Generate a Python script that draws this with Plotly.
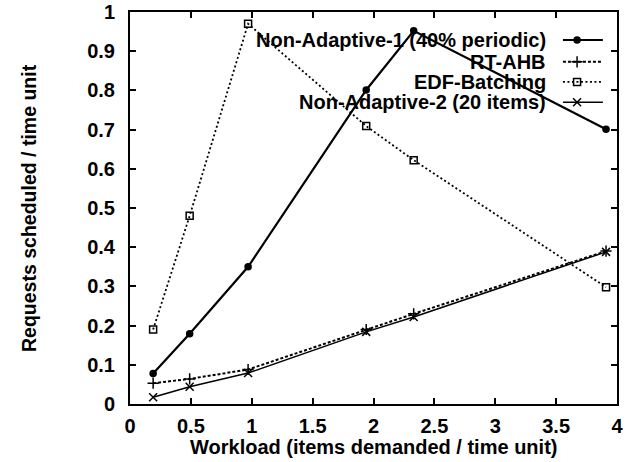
import plotly.graph_objects as go

# ---- data ----
x_vals = [0.19, 0.49, 0.97, 1.94, 2.33, 3.91]
na1 = [0.078, 0.179, 0.350, 0.801, 0.952, 0.701]   # Non-Adaptive-1 (40% periodic)
rtahb = [0.053, 0.064, 0.088, 0.190, 0.230, 0.390]  # RT-AHB
edf = [0.190, 0.480, 0.970, 0.709, 0.622, 0.298]    # EDF-Batching
na2 = [0.017, 0.044, 0.079, 0.184, 0.222, 0.388]    # Non-Adaptive-2 (20 items)

names = ["Non-Adaptive-1 (40% periodic)", "RT-AHB", "EDF-Batching", "Non-Adaptive-2 (20 items)"]
series = [na1, rtahb, edf, na2]

x_ticks = [0, 0.5, 1, 1.5, 2, 2.5, 3, 3.5, 4]
x_ticklabels = ["0", "0.5", "1", "1.5", "2", "2.5", "3", "3.5", "4"]
y_ticks = [0, 0.1, 0.2, 0.3, 0.4, 0.5, 0.6, 0.7, 0.8, 0.9, 1]
y_ticklabels = ["0", "0.1", "0.2", "0.3", "0.4", "0.5", "0.6", "0.7", "0.8", "0.9", "1"]

FONT = "Liberation Sans"
FS = 20
styles = [
    dict(line=dict(color="black", width=2.2, dash="solid"),
         marker=dict(symbol="circle", size=7.5, color="black")),
    dict(line=dict(color="black", width=2, dash="3px,2px"),
         marker=dict(symbol="cross-thin", size=8, color="black", line=dict(color="black", width=1.5))),
    dict(line=dict(color="black", width=1.8, dash="2px,2.5px"),
         marker=dict(symbol="square-open", size=7, color="black", line=dict(color="black", width=1.5))),
    dict(line=dict(color="black", width=1.5, dash="solid"),
         marker=dict(symbol="x-thin", size=8, color="black", line=dict(color="black", width=1.5))),
]

fig = go.Figure()
for name, ys, st in zip(names, series, styles):
    fig.add_trace(go.Scatter(x=x_vals, y=ys, mode="lines+markers", name=name,
                             showlegend=False, **st))

# ---- gnuplot-style legend: right-aligned text, sample on the right ----
leg_text_x = 0.858
leg_line_x = [0.889, 0.971]
leg_mark_x = 0.918
leg_y = [0.9286, 0.873, 0.8215, 0.770]
for name, ly, st in zip(names, leg_y, styles):
    fig.add_trace(go.Scatter(x=leg_line_x, y=[ly] * 2, mode="lines", showlegend=False,
                             xaxis="x2", yaxis="y2", line=st["line"], hoverinfo="skip"))
    fig.add_trace(go.Scatter(x=[leg_mark_x], y=[ly], mode="markers", showlegend=False,
                             xaxis="x2", yaxis="y2", marker=st["marker"], hoverinfo="skip"))
    fig.add_annotation(text="<b>%s</b>" % name, xref="paper", yref="paper", x=leg_text_x, y=ly,
                       xanchor="right", yanchor="middle", showarrow=False,
                       font=dict(family=FONT, size=FS, color="black"))

axis_common = dict(showline=True, linecolor="black", linewidth=2, mirror="ticks",
                   ticks="inside", ticklen=6, tickwidth=1.5, tickcolor="black",
                   showgrid=False, zeroline=False, automargin=False,
                   tickfont=dict(family=FONT, size=FS, color="black", weight="bold"))

fig.update_layout(
    width=638, height=462,
    margin=dict(l=130, r=21, t=12, b=58),
    paper_bgcolor="white", plot_bgcolor="white",
    xaxis=dict(range=[0, 4], tickvals=x_ticks, ticktext=x_ticklabels,
               ticklabelstandoff=3, **axis_common),
    yaxis=dict(range=[0, 1], tickvals=y_ticks, ticktext=y_ticklabels,
               ticklabelstandoff=9, **axis_common),
    xaxis2=dict(range=[0, 1], overlaying="x", visible=False, fixedrange=True),
    yaxis2=dict(range=[0, 1], overlaying="y", visible=False, fixedrange=True),
    showlegend=False,
)

fig.add_annotation(text="<b>Workload (items demanded / time unit)</b>", xref="paper", yref="paper",
                   x=0.5, y=0, yshift=-43, xanchor="center", yanchor="middle", showarrow=False,
                   font=dict(family=FONT, size=FS, color="black"))
fig.add_annotation(text="<b>Requests scheduled / time unit</b>", xref="paper", yref="paper",
                   x=0, xshift=-101, y=0.5, xanchor="center", yanchor="middle", showarrow=False,
                   textangle=-90, font=dict(family=FONT, size=19.5, color="black"))

fig.write_html("out.html")
